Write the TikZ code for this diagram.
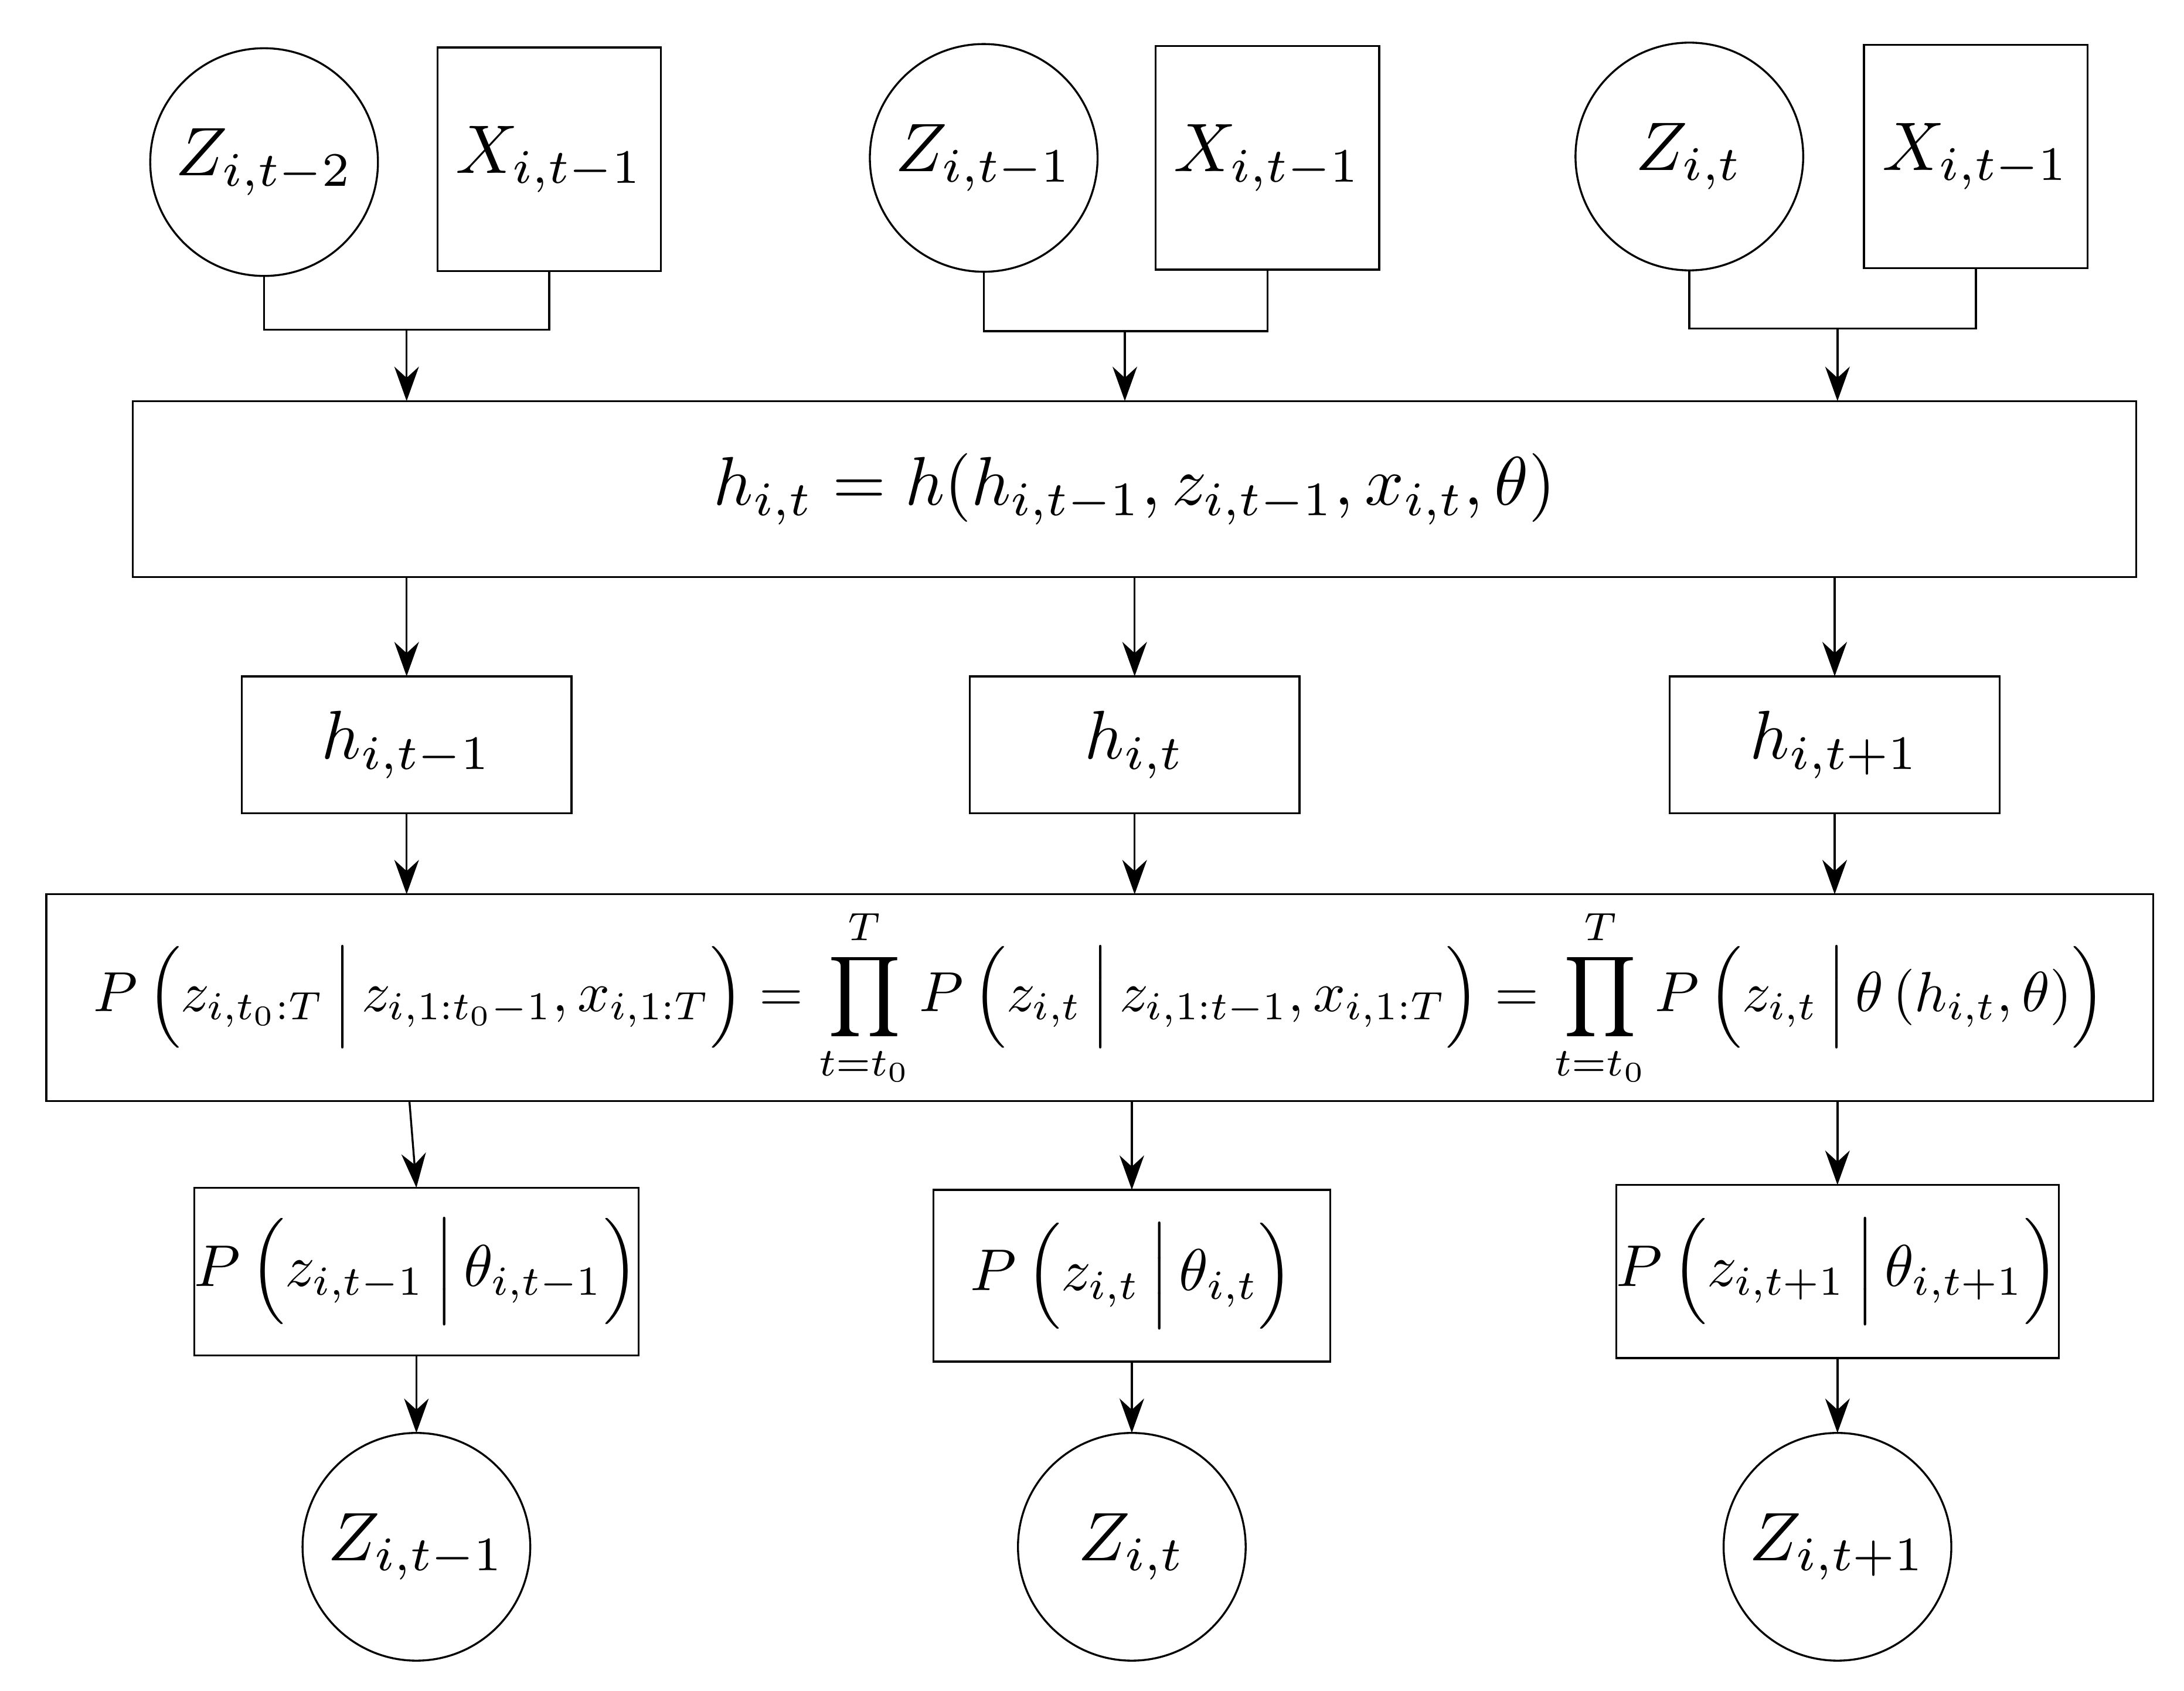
\documentclass[tikz,border=0pt]{standalone}
\usepackage{amsmath}
\usepackage{graphicx}
\usetikzlibrary{arrows.meta}
\newcommand{\bigtxt}[2]{\scalebox{#1}{#2}}
\begin{document}
\begin{tikzpicture}[x=0.02cm,y=-0.02cm,
  every node/.style={inner sep=0pt,outer sep=0pt},
  circ/.style={draw,thick,circle,minimum size=3.26cm},
  sq/.style={draw,thick,minimum size=3.2cm},
  box/.style={draw,thick},
  arr/.style={thick,-{Stealth[length=14pt,width=10pt]}},
  ln/.style={thick}]
\useasboundingbox (0,0) rectangle (1563,1210);
% top row
\node[circ] (z1) at (189,116) {\bigtxt{2.8}{$Z_{i,t-2}$}};
\node[sq] (x1) at (393,114) {\bigtxt{2.8}{$X_{i,t-1}$}};
\node[circ] (z2) at (704,113) {\bigtxt{2.8}{$Z_{i,t-1}$}};
\node[sq] (x2) at (907,113) {\bigtxt{2.8}{$X_{i,t-1}$}};
\node[circ] (z3) at (1209,112) {\bigtxt{2.8}{$Z_{i,t}$}};
\node[sq] (x3) at (1414,112) {\bigtxt{2.8}{$X_{i,t-1}$}};
\coordinate (j1) at (291,236);
\coordinate (j2) at (805,237);
\coordinate (j3) at (1315,235);
\draw[ln] (z1.south) |- (j1) -| (x1.south);
\draw[ln] (z2.south) |- (j2) -| (x2.south);
\draw[ln] (z3.south) |- (j3) -| (x3.south);
% h box
\node[box,minimum width=28.68cm,minimum height=2.52cm] (hb) at (812,350)
  {\bigtxt{2.8}{$h_{i,t}=h(h_{i,t-1},z_{i,t-1},x_{i,t},\theta)$}};
\draw[arr] (j1) -- (j1 |- hb.north);
\draw[arr] (j2) -- (j2 |- hb.north);
\draw[arr] (j3) -- (j3 |- hb.north);
% h nodes
\node[box,minimum width=4.72cm,minimum height=1.96cm] (h1) at (291,533) {\bigtxt{2.8}{$h_{i,t-1}$}};
\node[box,minimum width=4.72cm,minimum height=1.96cm] (h2) at (812,533) {\bigtxt{2.8}{$h_{i,t}$}};
\node[box,minimum width=4.72cm,minimum height=1.96cm] (h3) at (1313,533) {\bigtxt{2.8}{$h_{i,t+1}$}};
\draw[arr] (hb.south -| h1) -- (h1.north);
\draw[arr] (hb.south -| h2) -- (h2.north);
\draw[arr] (hb.south -| h3) -- (h3.north);
% P box
\node[box,minimum width=30.16cm,minimum height=2.96cm] (pb) at (787,714)
  {\bigtxt{2.3}{$\displaystyle P\left(z_{i,t_0:T}\vphantom{\Big|}\,\middle|\,z_{i,1:t_0-1},x_{i,1:T}\right)=\prod_{t=t_0}^{T}P\left(z_{i,t}\vphantom{\Big|}\,\middle|\,z_{i,1:t-1},x_{i,1:T}\right)=\prod_{t=t_0}^{T}P\left(z_{i,t}\vphantom{\Big|}\,\middle|\,\theta\left(h_{i,t},\theta\right)\right)$}};
\draw[arr] (h1.south) -- (h1 |- pb.north);
\draw[arr] (h2.south) -- (h2 |- pb.north);
\draw[arr] (h3.south) -- (h3 |- pb.north);
% P nodes
\node[box,minimum width=6.36cm,minimum height=2.4cm] (p1) at (298,910) {\bigtxt{2.4}{$P\left(z_{i,t-1}\vphantom{\Big|}\,\middle|\,\theta_{i,t-1}\right)$}};
\node[box,minimum width=5.68cm,minimum height=2.46cm] (p2) at (810,913) {\bigtxt{2.4}{$P\left(z_{i,t}\vphantom{\Big|}\,\middle|\,\theta_{i,t}\right)$}};
\node[box,minimum width=6.32cm,minimum height=2.48cm] (p3) at (1315,910) {\bigtxt{2.4}{$P\left(z_{i,t+1}\vphantom{\Big|}\,\middle|\,\theta_{i,t+1}\right)$}};
\draw[arr] (293,788) -- (p1.north);
\draw[arr] (pb.south -| p2) -- (p2.north);
\draw[arr] (pb.south -| p3) -- (p3.north);
% bottom circles
\node[circ] (c1) at (298,1107) {\bigtxt{2.8}{$Z_{i,t-1}$}};
\node[circ] (c2) at (810,1107) {\bigtxt{2.8}{$Z_{i,t}$}};
\node[circ] (c3) at (1315,1107) {\bigtxt{2.8}{$Z_{i,t+1}$}};
\draw[arr] (p1.south) -- (c1.north);
\draw[arr] (p2.south) -- (c2.north);
\draw[arr] (p3.south) -- (c3.north);
\end{tikzpicture}
\end{document}
